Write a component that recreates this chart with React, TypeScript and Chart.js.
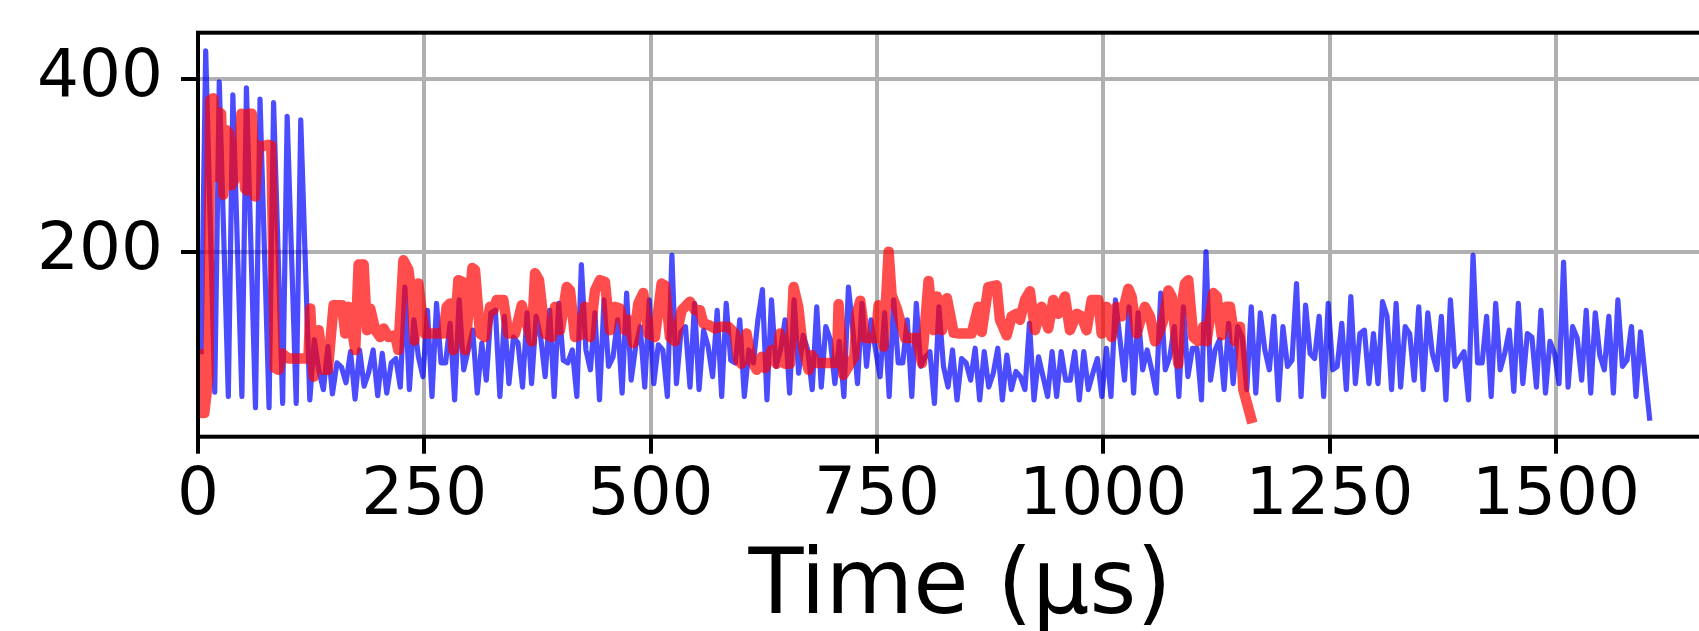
import React, { useEffect, useRef } from 'react';
import { Chart, registerables } from 'chart.js';

Chart.register(...registerables);

// ---- data ----
// blue trace: regularly sampled every 5 µs starting at 3.5 µs
const BLUE_START_US = 3.5;
const BLUE_STEP_US = 5;
const blueValues = [
  84, 433, 235, 37, 397, 215, 32, 382, 207, 32, 390, 205, 19, 377, 198, 19, 373, 199, 24, 357, 190, 24, 353, 190, 28,
  98, 62, 40, 90, 35, 71, 66, 48, 84, 29, 86, 44, 60, 86, 33, 82,
  36, 71, 76, 43, 159, 40, 121, 78, 55, 132, 32, 140, 71, 71, 117, 28, 144, 63, 86, 109, 36, 94, 51, 129, 132, 32, 125, 47, 101, 94, 43, 129, 47, 125, 101, 55, 132, 32, 140, 74, 71, 86,
  32, 185, 86, 63, 129, 28, 144, 67, 78, 121, 36, 152, 51, 90, 113, 43, 144, 47, 92, 86, 32, 196, 47, 107, 113, 43, 140, 40, 109, 90, 55, 132, 32, 140, 74, 71, 121, 32, 86, 71, 121, 156,
  28, 144, 67, 86, 121, 36, 144, 59, 103, 86, 40, 136, 43, 113, 98, 47, 96, 32, 159, 109, 47, 140, 67, 121, 86, 55, 129, 32, 144, 71, 71, 121, 32, 140, 67, 78, 84, 24, 136, 67, 43, 86,
  28, 76, 71, 51, 88, 28, 84, 43, 59, 88, 28, 80, 40, 61, 55, 40, 117, 28, 78, 55, 32, 84, 32, 84, 51, 51, 84, 28, 84, 40, 59, 76, 32, 88, 32, 144, 98, 51, 136, 36, 129, 63,
  86, 63, 36, 152, 63, 78, 113, 32, 136, 55, 88, 88, 28, 200, 51, 86, 98, 40, 117, 47, 113, 101, 40, 136, 36, 129, 86, 63, 125, 28, 113, 67, 74, 163, 32, 138, 82, 76, 125, 32, 140, 63,
  67, 117, 40, 148, 47, 105, 109, 47, 105, 47, 142, 125, 40, 140, 43, 113, 105, 51, 136, 40, 129, 82, 63, 125, 28, 144, 67, 76, 84, 28, 196, 71, 71, 125, 32, 140, 63, 82, 109, 38, 140, 47,
  105, 101, 43, 132, 36, 96, 82, 47, 188, 43, 113, 100, 51, 132, 36, 129, 80, 63, 125, 36, 144, 67, 74, 113, 32, 107, 57, 7,
];

// red trace: irregular timestamps (µs) and values
const redTimes = [
  1, 3.5, 7, 11.5, 13.5, 17, 19.5, 22.5, 25.5, 28, 31.5, 34, 37, 41, 44, 48, 52, 54, 56, 59.5,
  63, 66.5, 70, 77.5, 81, 85, 89, 92.7, 100, 110, 122, 124, 127.7, 133.3, 138.8, 143.5, 149.8, 159, 162.7, 166.4,
  173.7, 177.4, 183, 186.6, 190.3, 195.8, 201.4, 205, 210.6,
  217.6, 221.3, 226.9, 232.4, 236.1, 239, 243.4, 247.1, 250.8, 271, 274.7, 278.4, 282.1, 287.6, 292, 295, 303.1, 306, 311.5, 317,
  322.6, 326.3, 330, 337.3, 342.8, 350.2, 357.6, 363.1, 368.6, 372.3, 376.7, 383.3, 390.7, 394.4, 399.9, 407.3, 411, 416.4,
  421.9, 427.4, 433, 438.5, 444, 449.5, 455, 460.6, 466.1, 471.6, 475.3, 480.8, 486.4, 491.9, 497.4, 504.8, 512.1, 515.8, 521.3, 526.9,
  534.2, 543.4, 549, 554.5, 558.2, 563.7, 571, 578.4, 585.8, 593.1, 596.8, 600.5, 606, 611.5, 617.1, 622.6,
  626.3, 633.7, 639.2, 642.9, 648.4, 653.9, 657.9, 663.1, 668, 674.5, 678, 683, 705.8, 707.6, 713, 718, 725, 727.6, 731.6, 737,
  749, 751.8, 757.3, 762.9, 766.2, 772, 781, 794, 799.7, 807, 812.6, 816.2, 821.8, 827.3, 834.7,
  841.7, 854.6, 862, 865.7, 873, 882.2, 885.9, 893.3, 898.8, 904.3, 908, 913.5, 919, 924.6, 931.9, 939.3, 944.8, 950.3, 957.7, 963.2,
  970.6, 976.1, 981.6, 987.2, 994.5, 998.2, 1003.7, 1009.2, 1014.8, 1020.3, 1027.7, 1031.3, 1036.9, 1042.4,
  1046.1, 1051.6, 1057.1, 1062.7, 1066.4, 1071.9, 1075.6, 1082.9, 1084.8, 1090.3, 1093.9, 1099.5, 1105, 1110.5, 1114.2, 1121.6, 1125.3, 1130.8, 1136.3, 1140,
  1145.5, 1151, 1154.7, 1163.2,
];
const redValues = [
  81, 13, 13, 55, 376, 378, 287, 362, 360, 266, 341, 338, 277, 285, 295, 360, 273, 271, 360, 360,
  264, 323, 322, 324, 323, 65, 63, 82, 76, 76, 76, 134, 55, 109, 63, 63, 138, 138, 105, 136,
  86, 185, 185, 109, 134, 109, 101, 111, 101,
  103, 86, 190, 179, 150, 97, 163, 130, 105, 105, 136, 140, 86, 167, 165, 86, 181, 179, 105, 101,
  136, 132, 144, 144, 105, 105, 138, 117, 96, 175, 167, 105, 101, 136, 109, 159, 155, 101,
  103, 136, 101, 155, 167, 165, 109, 136, 134, 109, 121, 94, 140, 152, 105, 101, 163, 161, 101, 96,
  132, 142, 132, 132, 117, 115, 111, 113, 113, 105, 74, 70, 105, 74, 63, 78,
  65, 86, 70, 105, 70, 70, 159, 136, 90, 63, 80, 71, 71, 139, 57, 66, 78, 128, 143, 100,
  100, 138, 90, 200, 150, 134, 100, 100, 71, 166, 109, 148, 109, 146, 106,
  105, 105, 136, 107, 159, 161, 121, 103, 125, 128, 121, 144, 154, 109, 136, 111, 144, 128, 148, 109,
  128, 125, 109, 144, 144, 105, 136, 101, 136, 125, 157, 148, 105, 125,
  136, 125, 96, 109, 121, 155, 148, 70, 125, 163, 167, 101, 96, 113, 96, 152, 148, 103, 136, 136,
  96, 113, 40, 7,
];

const xTickValues = [0, 250, 500, 750, 1000, 1250, 1500];
const yTickValues = [200, 400];
const X_MIN = 0;
const X_MAX = 1683.5;
const Y_MIN = -14.6;
const Y_MAX = 454;
const X_TITLE = 'Time (µs)';

// ---- layout ----
const CANVAS_W = 1730; // wider than the window: right spine falls outside, as in the reference
const CANVAS_H = 631;
const FONT = 'DejaVu Sans';

const spinesPlugin = {
  id: 'spines',
  afterDatasetsDraw(chart: any) {
    const { ctx, chartArea: a } = chart;
    ctx.save();
    ctx.strokeStyle = '#000';
    ctx.lineWidth = 4;
    ctx.lineJoin = 'miter';
    ctx.strokeRect(a.left, a.top, a.right - a.left, a.bottom - a.top);
    ctx.restore();
  },
};

export default function App() {
  const ref = useRef<HTMLCanvasElement | null>(null);

  useEffect(() => {
    if (!ref.current) return;
    const blueData = blueValues.map((v, i) => ({ x: BLUE_START_US + i * BLUE_STEP_US, y: v }));
    const redData = redValues.map((v, i) => ({ x: redTimes[i], y: v }));

    const chart = new Chart(ref.current, {
      type: 'line',
      data: {
        datasets: [
          {
            label: 'red',
            data: redData,
            borderColor: 'rgba(255,0,0,0.7)',
            borderWidth: 10.5,
            pointRadius: 0,
            tension: 0,
            fill: false,
            borderJoinStyle: 'round',
            borderCapStyle: 'square',
          },
          {
            label: 'blue',
            data: blueData,
            borderColor: 'rgba(0,0,255,0.7)',
            borderWidth: 5.2,
            pointRadius: 0,
            tension: 0,
            fill: false,
            borderJoinStyle: 'round',
            borderCapStyle: 'square',
          },
        ],
      },
      options: {
        responsive: false,
        maintainAspectRatio: false,
        devicePixelRatio: 1,
        animation: false,
        events: [],
        layout: { padding: { left: 0, right: 8, top: 32.7, bottom: 0 } },
        plugins: {
          legend: { display: false },
          tooltip: { enabled: false },
          title: { display: false },
        },
        scales: {
          x: {
            type: 'linear',
            position: 'bottom',
            min: X_MIN,
            max: X_MAX,
            afterBuildTicks: (s: any) => {
              s.ticks = xTickValues.map((v) => ({ value: v }));
            },
            afterFit: (s: any) => {
              s.height = 194.3;
              s.paddingLeft = 0;
              s.paddingRight = 0;
              s.paddingTop = 0;
              s.paddingBottom = 0;
            },
            ticks: {
              autoSkip: false,
              maxRotation: 0,
              minRotation: 0,
              padding: 4,
              color: '#000',
              font: { family: FONT, size: 66 },
              callback: (v: any) => String(v),
            },
            grid: {
              color: '#b0b0b0',
              lineWidth: 4,
              drawTicks: true,
              tickLength: 17,
              tickColor: '#000',
              tickWidth: 4,
            },
            border: { display: false },
            title: {
              display: true,
              text: X_TITLE,
              color: '#000',
              font: { family: FONT, size: 90, lineHeight: 1 },
              padding: { top: 0, bottom: -3.5 },
            },
          },
          y: {
            type: 'linear',
            position: 'left',
            min: Y_MIN,
            max: Y_MAX,
            afterBuildTicks: (s: any) => {
              s.ticks = yTickValues.map((v) => ({ value: v }));
            },
            afterFit: (s: any) => {
              s.width = 198;
              s.paddingLeft = 0;
              s.paddingRight = 0;
              s.paddingTop = 0;
              s.paddingBottom = 0;
            },
            ticks: {
              padding: 18,
              color: '#000',
              font: { family: FONT, size: 66 },
              callback: (v: any) => String(v),
            },
            grid: {
              color: '#b0b0b0',
              lineWidth: 4,
              drawTicks: true,
              tickLength: 17,
              tickColor: '#000',
              tickWidth: 4,
            },
            border: { display: false },
          },
        },
      },
      plugins: [spinesPlugin],
    } as any);

    return () => chart.destroy();
  }, []);

  return (
    <div
      style={{
        position: 'fixed',
        left: 0,
        top: 0,
        width: 1699,
        height: 631,
        overflow: 'hidden',
        background: '#fff',
      }}
    >
      <canvas
        ref={ref}
        width={CANVAS_W}
        height={CANVAS_H}
        style={{ display: 'block', width: CANVAS_W, height: CANVAS_H }}
      />
    </div>
  );
}
